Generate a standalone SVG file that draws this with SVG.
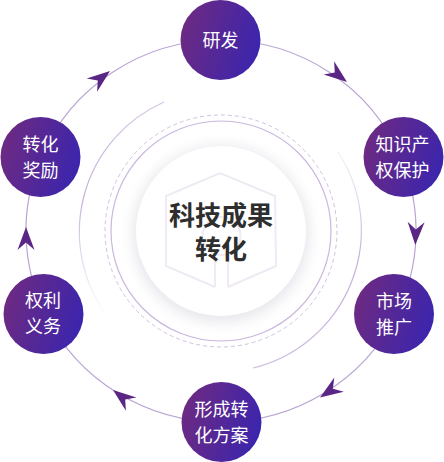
<svg xmlns="http://www.w3.org/2000/svg" xmlns:xlink="http://www.w3.org/1999/xlink" width="444" height="462" viewBox="0 0 444 462">
  <defs>
    <linearGradient id="nodeGrad" x1="0" y1="0.35" x2="1" y2="0.65">
      <stop offset="0" stop-color="#6d2a82"/>
      <stop offset="1" stop-color="#3a25ae"/>
    </linearGradient>
    <linearGradient id="leftArc" gradientUnits="userSpaceOnUse" x1="164" y1="102" x2="110" y2="320">
      <stop offset="0" stop-color="#c4b0da" stop-opacity="0.7"/>
      <stop offset="0.5" stop-color="#c4b0da" stop-opacity="1"/>
      <stop offset="1" stop-color="#c4b0da" stop-opacity="0"/>
    </linearGradient>
    <linearGradient id="rightArc" gradientUnits="userSpaceOnUse" x1="338" y1="152" x2="253" y2="368">
      <stop offset="0" stop-color="#c4b0da" stop-opacity="0.2"/>
      <stop offset="0.4" stop-color="#c4b0da" stop-opacity="1"/>
      <stop offset="1" stop-color="#c4b0da" stop-opacity="0.8"/>
    </linearGradient>
    <filter id="soft" x="-30%" y="-30%" width="160%" height="160%">
      <feGaussianBlur stdDeviation="7"/>
    </filter>
    <path id="ah" d="M0,0 L-23,-8.5 L-15.5,0 L-23,8.5 Z"/>
    <style>
      .node circle { fill: url(#nodeGrad); }
      .node text { fill: #ffffff; font-family: "Noto Sans CJK SC", "Noto Sans", sans-serif; font-size: 18px; text-anchor: middle; }
      .conn path.arc { fill: none; stroke: #b9a4d2; stroke-width: 1.2; }
      .conn use { fill: #5a2686; }
      .title { fill: #2e2e2e; font-family: "Noto Sans CJK SC", "Noto Sans", sans-serif; font-size: 26px; font-weight: bold; text-anchor: middle; }
      .deco { fill: none; }
      .icon { fill: none; stroke: #efeaf4; stroke-width: 2; }
    </style>
  </defs>

  <rect width="444" height="462" fill="#ffffff"/>

  <!-- central decoration -->
  <g id="center">
    <path class="deco" d="M164,102 A142,142 0 0 0 110,320" stroke="url(#leftArc)" stroke-width="1.2"/>
    <path class="deco" d="M338,152 A142,142 0 0 1 253,368" stroke="url(#rightArc)" stroke-width="1.2"/>
    <circle class="deco" cx="221" cy="231" r="116" stroke="#cfc2e2" stroke-width="1" stroke-dasharray="4 3"/>
    <circle class="deco" cx="221" cy="231" r="110" stroke="#cab7de" stroke-width="1.2"/>
    <circle cx="221" cy="234" r="88" fill="#e6e6ec" filter="url(#soft)"/>
    <circle cx="221" cy="231" r="85" fill="#ffffff"/>
    <g class="icon">
      <path d="M215,287 L166,266 L166,196 L220,173 L275,196 L276,266 L228,287"/>
      <path d="M215,287 L215,257 M228,287 L228,257"/>
      <circle cx="221.5" cy="236" r="19"/>
    </g>
    <text class="title" x="221" y="224.5">科技成果</text>
    <text class="title" x="221" y="258.5">转化</text>
  </g>

  <!-- connectors -->
  <g id="connectors" class="conn">
    <path class="arc" d="M221,40 A195,191 0 0 1 401.2,157.9"/>
    <path class="arc" d="M401.2,157.9 A195,191 0 0 1 396.3,314.7"/>
    <path class="arc" d="M396.3,314.7 A195,191 0 0 1 221,422"/>
    <path class="arc" d="M221,422 A195,191 0 0 1 45.7,314.7"/>
    <path class="arc" d="M45.7,314.7 A195,191 0 0 1 40.8,157.9"/>
    <path class="arc" d="M40.8,157.9 A195,191 0 0 1 221,40"/>
    <use xlink:href="#ah" href="#ah" transform="translate(347,82) rotate(38)"/>
    <use xlink:href="#ah" href="#ah" transform="translate(415.3,245) rotate(92)"/>
    <use xlink:href="#ah" href="#ah" transform="translate(320,397.5) rotate(146)"/>
    <use xlink:href="#ah" href="#ah" transform="translate(113,390) rotate(218)"/>
    <use xlink:href="#ah" href="#ah" transform="translate(26,227) rotate(270)"/>
    <use xlink:href="#ah" href="#ah" transform="translate(110,71) rotate(322)"/>
  </g>

  <!-- nodes -->
  <g id="node-yanfa" class="node">
    <circle cx="220.5" cy="40" r="40"/>
    <text x="220.5" y="46.5">研发</text>
  </g>
  <g id="node-zhishi" class="node">
    <circle cx="403.5" cy="157" r="40"/>
    <text x="402.5" y="150.5">知识产</text>
    <text x="402.5" y="176.5">权保护</text>
  </g>
  <g id="node-shichang" class="node">
    <circle cx="394" cy="314" r="40"/>
    <text x="394" y="307.5">市场</text>
    <text x="394" y="333.5">推广</text>
  </g>
  <g id="node-fangan" class="node">
    <circle cx="221.5" cy="422" r="40"/>
    <text x="221.5" y="415.5">形成转</text>
    <text x="221.5" y="441.5">化方案</text>
  </g>
  <g id="node-quanli" class="node">
    <circle cx="43.5" cy="314" r="40"/>
    <text x="43" y="307">权利</text>
    <text x="43" y="333">义务</text>
  </g>
  <g id="node-jiangli" class="node">
    <circle cx="40.5" cy="157" r="40"/>
    <text x="40.5" y="151">转化</text>
    <text x="40.5" y="177">奖励</text>
  </g>
</svg>
